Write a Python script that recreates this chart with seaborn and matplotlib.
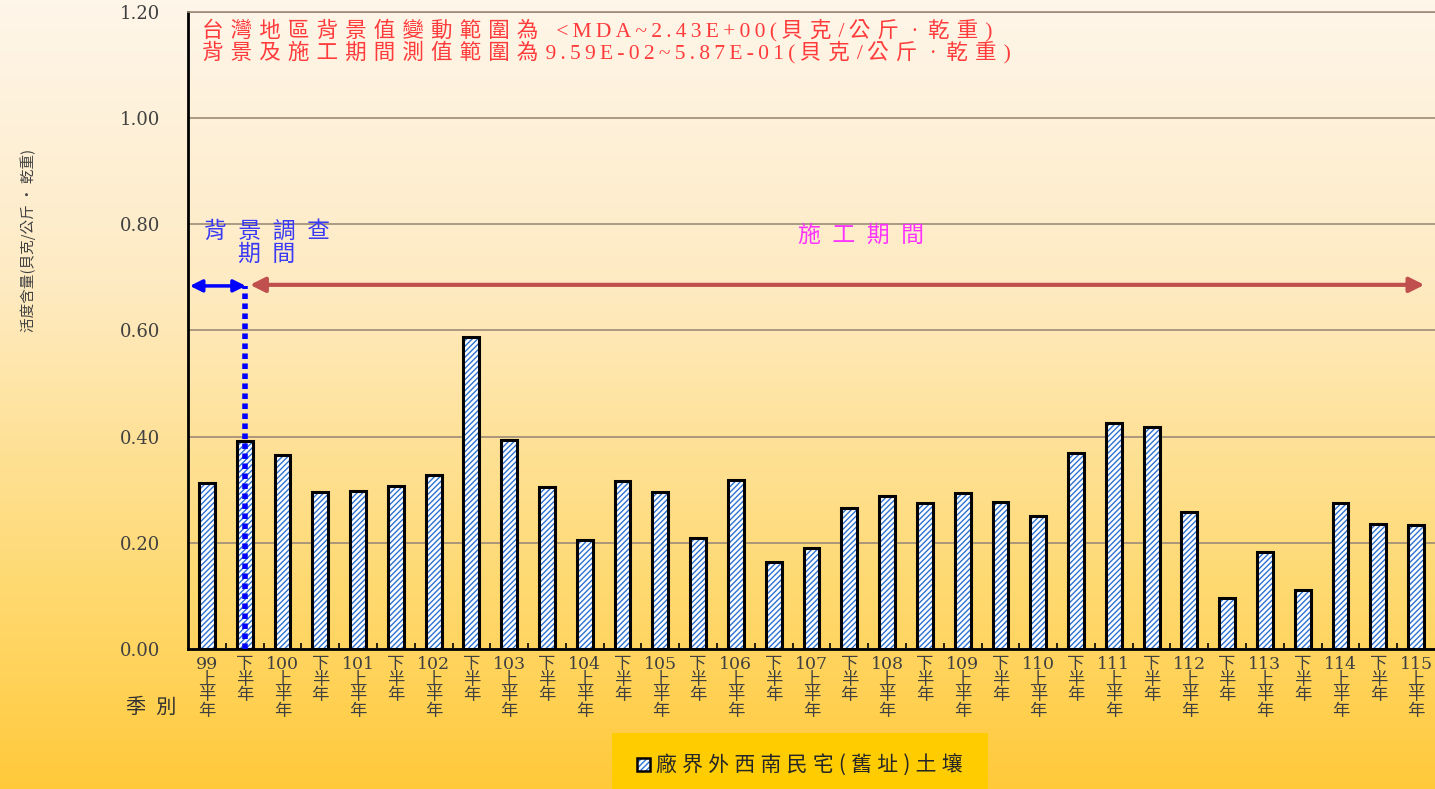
import numpy as np
import matplotlib
matplotlib.use("Agg")
import matplotlib.pyplot as plt
import seaborn as sns
from matplotlib.patches import Patch, Rectangle
from matplotlib.legend_handler import HandlerTuple
from matplotlib.colors import LinearSegmentedColormap

# 半年期別 (民國年)
periods = [
    "99上", "99下", "100上", "100下", "101上", "101下", "102上", "102下",
    "103上", "103下", "104上", "104下", "105上", "105下", "106上", "106下",
    "107上", "107下", "108上", "108下", "109上", "109下", "110上", "110下",
    "111上", "111下", "112上", "112下", "113上", "113下", "114上", "114下",
    "115上",
]
# 活度含量 (貝克/公斤 · 乾重)
values = [
    0.313, 0.392, 0.365, 0.296, 0.298, 0.307, 0.328, 0.587,
    0.394, 0.305, 0.205, 0.317, 0.296, 0.209, 0.318, 0.164,
    0.190, 0.266, 0.288, 0.275, 0.294, 0.277, 0.251, 0.369,
    0.426, 0.418, 0.258, 0.0959, 0.183, 0.111, 0.275, 0.236,
    0.234,
]
tick_labels = []
for p in periods:
    year, half = p[:-1], p[-1]
    if half == "上":
        tick_labels.append(f"{year}\n上\n半\n年")
    else:
        tick_labels.append("下\n半\n年")

series_name = "廠界外西南民宅(舊址)土壤"
note_lines = [
    "台灣地區背景值變動範圍為  <MDA~2.43E+00(貝克/公斤 · 乾重)",
    "背景及施工期間測值範圍為9.59E-02~5.87E-01(貝克/公斤 · 乾重)",
]
y_ticks = [0.0, 0.2, 0.4, 0.6, 0.8, 1.0, 1.2]


def spaced(text, wide="\u2004", narrow="\u2009"):
    """Loosen letter spacing: wider gaps after CJK glyphs, narrower after Latin ones."""
    out = []
    for i, ch in enumerate(text):
        out.append(ch)
        if i < len(text) - 1 and ch != " ":
            out.append(wide if ord(ch) >= 0x2E80 else narrow)
    return "".join(out)


sns.set_theme(style="white")
plt.rcParams["font.family"] = ["Liberation Serif", "Noto Sans CJK TC", "DejaVu Sans"]
plt.rcParams["hatch.linewidth"] = 1.0

W, H = 1435, 789
fig = plt.figure(figsize=(W / 100, H / 100), dpi=100)

# warm vertical gradient behind everything
bg = fig.add_axes([0, 0, 1, 1], zorder=-2)
grad = np.linspace(0, 1, 256).reshape(-1, 1)
cmap = LinearSegmentedColormap.from_list(
    "warm", [(0.0, "#FFF6EA"), (0.35, "#FEEBC4"), (0.75, "#FFD970"), (1.0, "#FFC93A")]
)
bg.imshow(grad, aspect="auto", cmap=cmap, extent=[0, 1, 0, 1], origin="upper")
bg.set_axis_off()

# legend panel
fig.patches.append(Rectangle((612 / W, 0), 376 / W, 56 / H, transform=fig.transFigure,
                             facecolor="#FFCC00", edgecolor="none", zorder=-1))

ax = fig.add_axes([188 / W, 1 - 649 / H, (W - 188) / W, (649 - 12) / H])
ax.set_facecolor("none")

hatch_blue = "#2F72D2"
sns.barplot(x=periods, y=values, ax=ax, width=0.42, color="white", saturation=1,
            edgecolor=hatch_blue, hatch="//////", linewidth=0, zorder=3)
sns.barplot(x=periods, y=values, ax=ax, width=0.42, fill=False, saturation=1,
            edgecolor="black", linewidth=2.2, zorder=4)

ax.set_xlim(-0.5, len(periods) - 0.5)
ax.set_ylim(0, 1.2)
ax.set_yticks(y_ticks)
ax.set_yticklabels([f"{v:.2f}" for v in y_ticks], family="DejaVu Serif",
                   fontsize=13, color="#404040")
ax.yaxis.grid(True, color="#9C8B78", lw=1.2, zorder=1)
ax.set_axisbelow(True)
ax.tick_params(axis="y", length=0, pad=20)

ax.set_xticks(range(len(periods)))
ax.set_xticklabels(tick_labels, family=["DejaVu Serif", "Noto Sans CJK TC"],
                   fontsize=12.5, color="#404040", linespacing=0.9, va="top")
ax.tick_params(axis="x", which="major", length=0, pad=5)
ax.set_xticks(np.arange(0.5, len(periods) - 0.5, 1.0), minor=True)
ax.tick_params(axis="x", which="minor", length=4, width=1.2, color="black",
               direction="in", bottom=True)
ax.set_xlabel("")
ax.set_ylabel("")

ax.spines["right"].set_visible(False)
ax.spines["top"].set_color("#9C8B78")
ax.spines["top"].set_linewidth(1.2)
ax.spines["left"].set_color("black")
ax.spines["left"].set_linewidth(2)
ax.spines["bottom"].set_color("black")
ax.spines["bottom"].set_linewidth(2)

# survey periods
ax.annotate("", xy=(-0.45, 0.684), xytext=(1.03, 0.684),
            arrowprops=dict(arrowstyle="<|-|>", color="blue", lw=2.5,
                            mutation_scale=18, shrinkA=0, shrinkB=0), zorder=6)
ax.plot([1, 1], [0, 0.684], color="blue", ls=(0, (1, 0.8)), lw=4, zorder=6,
        solid_capstyle="butt")
ax.annotate("", xy=(1.14, 0.686), xytext=(32.22, 0.686),
            arrowprops=dict(arrowstyle="<|-|>", color="#C0504D", lw=3,
                            mutation_scale=22, shrinkA=0, shrinkB=0), zorder=6)

ax.text(1.59, 0.765, "背\u2002景\u2002調\u2002查\n期\u2002間", ha="center", va="center",
        multialignment="center", color="#3A3AF5", fontsize=16.5,
        family=["DejaVu Sans", "Noto Sans CJK TC"], linespacing=1.0, zorder=6)
ax.text(17.3, 0.779, "施\u2002工\u2002期\u2002間", ha="center", va="center",
        color="#FF33FF", fontsize=16.5, family=["DejaVu Sans", "Noto Sans CJK TC"], zorder=6)

note_tf = ax.get_yaxis_transform()
for i, line in enumerate(note_lines):
    ax.text(0.011, 1.166 - i * 0.041, spaced(line), transform=note_tf,
            ha="left", va="center", color="#FF3B3B", fontsize=15.5)

fig.text(28 / W, 1 - 240 / H, "活度含量(貝克/公斤 · 乾重)", rotation=90, ha="center", va="center",
         fontsize=10.5, color="#404040", family=["Noto Sans CJK TC", "DejaVu Sans"])
fig.text(151 / W, 1 - 707 / H, "季\u2002別", ha="center", va="center",
         fontsize=14.5, color="#303030", family=["DejaVu Sans", "Noto Sans CJK TC"])

h_fill = Patch(facecolor="white", edgecolor=hatch_blue, hatch="//////", lw=0)
h_edge = Patch(facecolor="none", edgecolor="black", lw=1.8)
fig.legend([(h_fill, h_edge)], [spaced(series_name, "\u2005", "\u2005")],
           handler_map={tuple: HandlerTuple(ndivide=1, pad=0)},
           loc="center", bbox_to_anchor=(800 / W, 1 - 766 / H), frameon=False,
           handlelength=0.6, handleheight=0.55, handletextpad=0.3,
           prop={"family": ["Noto Sans CJK TC", "DejaVu Sans"], "size": 15})

fig.savefig("out.png", dpi=100)
